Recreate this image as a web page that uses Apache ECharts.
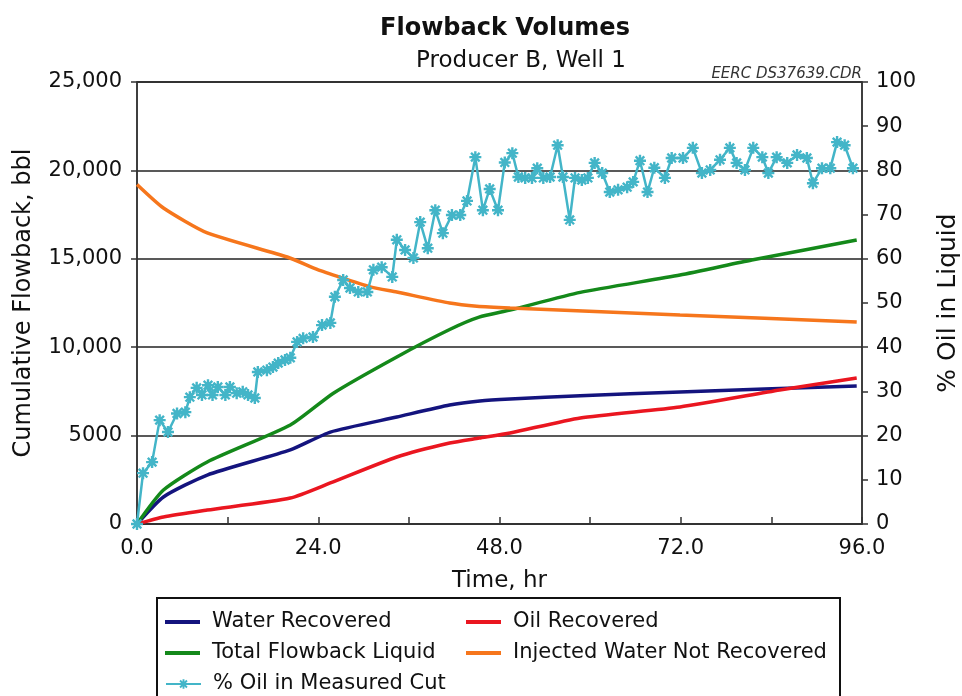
<!DOCTYPE html>
<html>
<head>
<meta charset="utf-8">
<script src="https://cdn.jsdelivr.net/npm/echarts@6/dist/echarts.min.js"></script>
<style>html,body{margin:0;padding:0;background:#fff}#c{width:962px;height:696px}</style>
</head>
<body>
<div id="c"></div>
<script>
// ---- data ----
const waterTime  = [0, 3.5, 9.3, 20.3, 25.6, 34.4, 41.4, 45.4, 49.4, 58.7, 71.9, 95.3];
const waterVals  = [0, 1530, 2770, 4190, 5200, 6050, 6730, 6960, 7070, 7250, 7470, 7800];
const oilTime    = [0, 3.5, 9.3, 20.3, 25.6, 34.4, 41.4, 45.3, 49.4, 58.7, 71.9, 85.1, 95.3];
const oilVals    = [0, 400, 790, 1470, 2320, 3790, 4580, 4860, 5150, 6000, 6620, 7580, 8260];
const totalTime  = [0, 3.5, 9.3, 20.3, 26, 34.4, 41.4, 45.3, 49.4, 58.7, 71.9, 81.4, 95.3];
const totalVals  = [0, 1920, 3510, 5600, 7400, 9450, 11000, 11700, 12100, 13100, 14080, 14930, 16060];
const injTime    = [0, 3.5, 9.3, 19.9, 24, 27.3, 31, 34.4, 41.4, 45, 49.4, 71.9, 95.3];
const injVals    = [19200, 17870, 16460, 15100, 14370, 13900, 13400, 13120, 12500, 12320, 12220, 11820, 11425];
const cutTime = [0,0.8,2,3,4.1,5.3,6.4,7,7.9,8.6,9.4,10,10.7,11.7,12.3,13.2,14,14.7,15.6,16,17.2,18,18.7,19.6,20.3,21.2,22,23.3,24.5,25.6,26.2,27.3,28.2,29.3,30.5,31.3,32.4,33.8,34.4,35.5,36.6,37.5,38.5,39.5,40.5,41.7,42.8,43.7,44.8,45.8,46.7,47.8,48.7,49.7,50.5,51.4,52.3,53,53.8,54.7,55.7,56.4,57.3,58,58.9,59.7,60.6,61.6,62.6,63.7,64.9,65.7,66.6,67.6,68.5,69.9,70.8,72.3,73.6,74.8,75.9,77.2,78.5,79.4,80.5,81.6,82.8,83.6,84.7,86.1,87.4,88.7,89.5,90.7,91.8,92.7,93.7,94.8];
const cutPct  = [0,11.5,14,23.5,20.8,25,25.3,28.7,30.8,29.2,31.4,29.2,31,29.2,31,29.6,29.9,29.2,28.5,34.4,34.8,35.5,36.4,37.1,37.6,41.2,42,42.3,45,45.5,51.4,55.2,53.4,52.5,52.5,57.5,58.1,55.9,64.3,62,60.2,68.3,62.4,71,65.8,69.9,69.9,73.1,83,71,75.8,71,81.8,83.9,78.5,78.3,78.3,80.5,78.3,78.5,85.7,78.5,68.8,78.3,77.8,78.3,81.7,79.4,75.1,75.6,76.2,77.4,82.2,75.1,80.6,78.3,82.8,82.8,85.1,79.4,80.1,82.4,85.1,81.7,80.1,85.1,83,79.4,83,81.7,83.5,82.8,77.1,80.5,80.5,86.4,85.7,80.5];

const names = ['Water Recovered','Oil Recovered','Total Flowback Liquid','Injected Water Not Recovered','% Oil in Measured Cut'];

const pairs = (t, v) => t.map((x, i) => [x, v[i]]);
const FONT = 'DejaVu Sans';
const star = 'path://M-1,-5L1,-5L1,5L-1,5Z M-5,-1L5,-1L5,1L-5,1Z M-4.3,-2.9L-2.9,-4.3L4.3,2.9L2.9,4.3Z M2.9,-4.3L4.3,-2.9L-2.9,4.3L-4.3,2.9Z';

const chart = echarts.init(document.getElementById('c'));
const lineS = (name, data, color) => ({
  name, type: 'line', data, symbol: 'none', smooth: 0.2,
  lineStyle: { color, width: 3.5 }, itemStyle: { color }, z: 3
});
const legText = { fontFamily: FONT, fontSize: 21, color: '#111', padding: [0, 0, 0, 7], lineHeight: 22 };
const leg = (name, left, top, isLine) => Object.assign({
  orient: 'horizontal', left, top, padding: 0, itemWidth: 35,
  itemHeight: isLine ? 4 : 12, data: [name], textStyle: legText, selectedMode: false
}, isLine ? { icon: 'rect' } : {});

chart.setOption({
  animation: false,
  backgroundColor: '#fff',
  title: [
    { text: 'Flowback Volumes', left: 500, textAlign: 'center', top: 12,
      textStyle: { fontFamily: FONT, fontSize: 24, fontWeight: 'bold', color: '#111' } },
    { text: 'Producer B, Well 1', left: 516, textAlign: 'center', top: 45,
      textStyle: { fontFamily: FONT, fontSize: 23, fontWeight: 'normal', color: '#111' } },
    { text: 'EERC DS37639.CDR', left: 857, textAlign: 'right', top: 62,
      textStyle: { fontFamily: FONT, fontSize: 15, fontStyle: 'italic', fontWeight: 'normal', color: '#333' } }
  ],
  grid: { left: 137, right: 100, top: 82, bottom: 172, show: true, borderColor: '#333', borderWidth: 1.5,
    containLabel: false, outerBoundsMode: 'none' },
  legend: [
    leg(names[0], 165, 611, true),
    leg(names[2], 165, 642, true),
    leg(names[4], 165, 673, false),
    leg(names[1], 466, 611, true),
    leg(names[3], 466, 642, true)
  ],
  graphic: [
    { type: 'rect', shape: { x: 157, y: 598, width: 683, height: 110 }, style: { fill: 'none', stroke: '#111', lineWidth: 2 }, z: -1 }
  ],
  xAxis: {
    type: 'value', min: 0, max: 96, interval: 12,
    name: 'Time, hr', nameLocation: 'middle', nameGap: 46,
    nameTextStyle: { fontFamily: FONT, fontSize: 23, color: '#111' },
    axisLine: { lineStyle: { color: '#333', width: 1.5 } },
    axisTick: { inside: true, length: 7, lineStyle: { color: '#333', width: 1.5 } },
    axisLabel: { fontFamily: FONT, fontSize: 21, color: '#111', margin: 14,
      formatter: v => (v % 24 === 0 ? v.toFixed(1) : '') },
    splitLine: { show: false }
  },
  yAxis: [
    { type: 'value', min: 0, max: 25000, interval: 5000, position: 'left',
      name: 'Cumulative Flowback, bbl', nameLocation: 'middle', nameGap: 101, nameRotate: 90,
      nameTextStyle: { fontFamily: FONT, fontSize: 24, color: '#111' },
      axisLine: { show: true, lineStyle: { color: '#333', width: 1.5 } },
      axisTick: { show: true, length: 6, lineStyle: { color: '#333', width: 1.5 } },
      axisLabel: { fontFamily: FONT, fontSize: 21, color: '#111', margin: 15,
        formatter: v => (v >= 10000 ? v.toLocaleString('en-US') : String(v)) },
      splitLine: { show: true, lineStyle: { color: '#222', width: 1.5 } }
    },
    { type: 'value', min: 0, max: 100, interval: 10, position: 'right',
      name: '% Oil in Liquid', nameLocation: 'middle', nameGap: 74, nameRotate: 90,
      nameTextStyle: { fontFamily: FONT, fontSize: 25, color: '#111' },
      axisLine: { show: true, lineStyle: { color: '#333', width: 1.5 } },
      axisTick: { show: true, length: 6, lineStyle: { color: '#333', width: 1.5 } },
      axisLabel: { fontFamily: FONT, fontSize: 21, color: '#111', margin: 14 },
      splitLine: { show: false }
    }
  ],
  series: [
    lineS(names[0], pairs(waterTime, waterVals), '#14147e'),
    lineS(names[1], pairs(oilTime, oilVals), '#ea1620'),
    lineS(names[2], pairs(totalTime, totalVals), '#14891a'),
    lineS(names[3], pairs(injTime, injVals), '#f6761c'),
    { name: names[4], type: 'line', yAxisIndex: 1, data: pairs(cutTime, cutPct),
      symbol: star, symbolSize: 12, showSymbol: true,
      lineStyle: { color: '#43b5c8', width: 2.5 }, itemStyle: { color: '#43b5c8' }, z: 4 }
  ]
});
</script>
</body>
</html>
